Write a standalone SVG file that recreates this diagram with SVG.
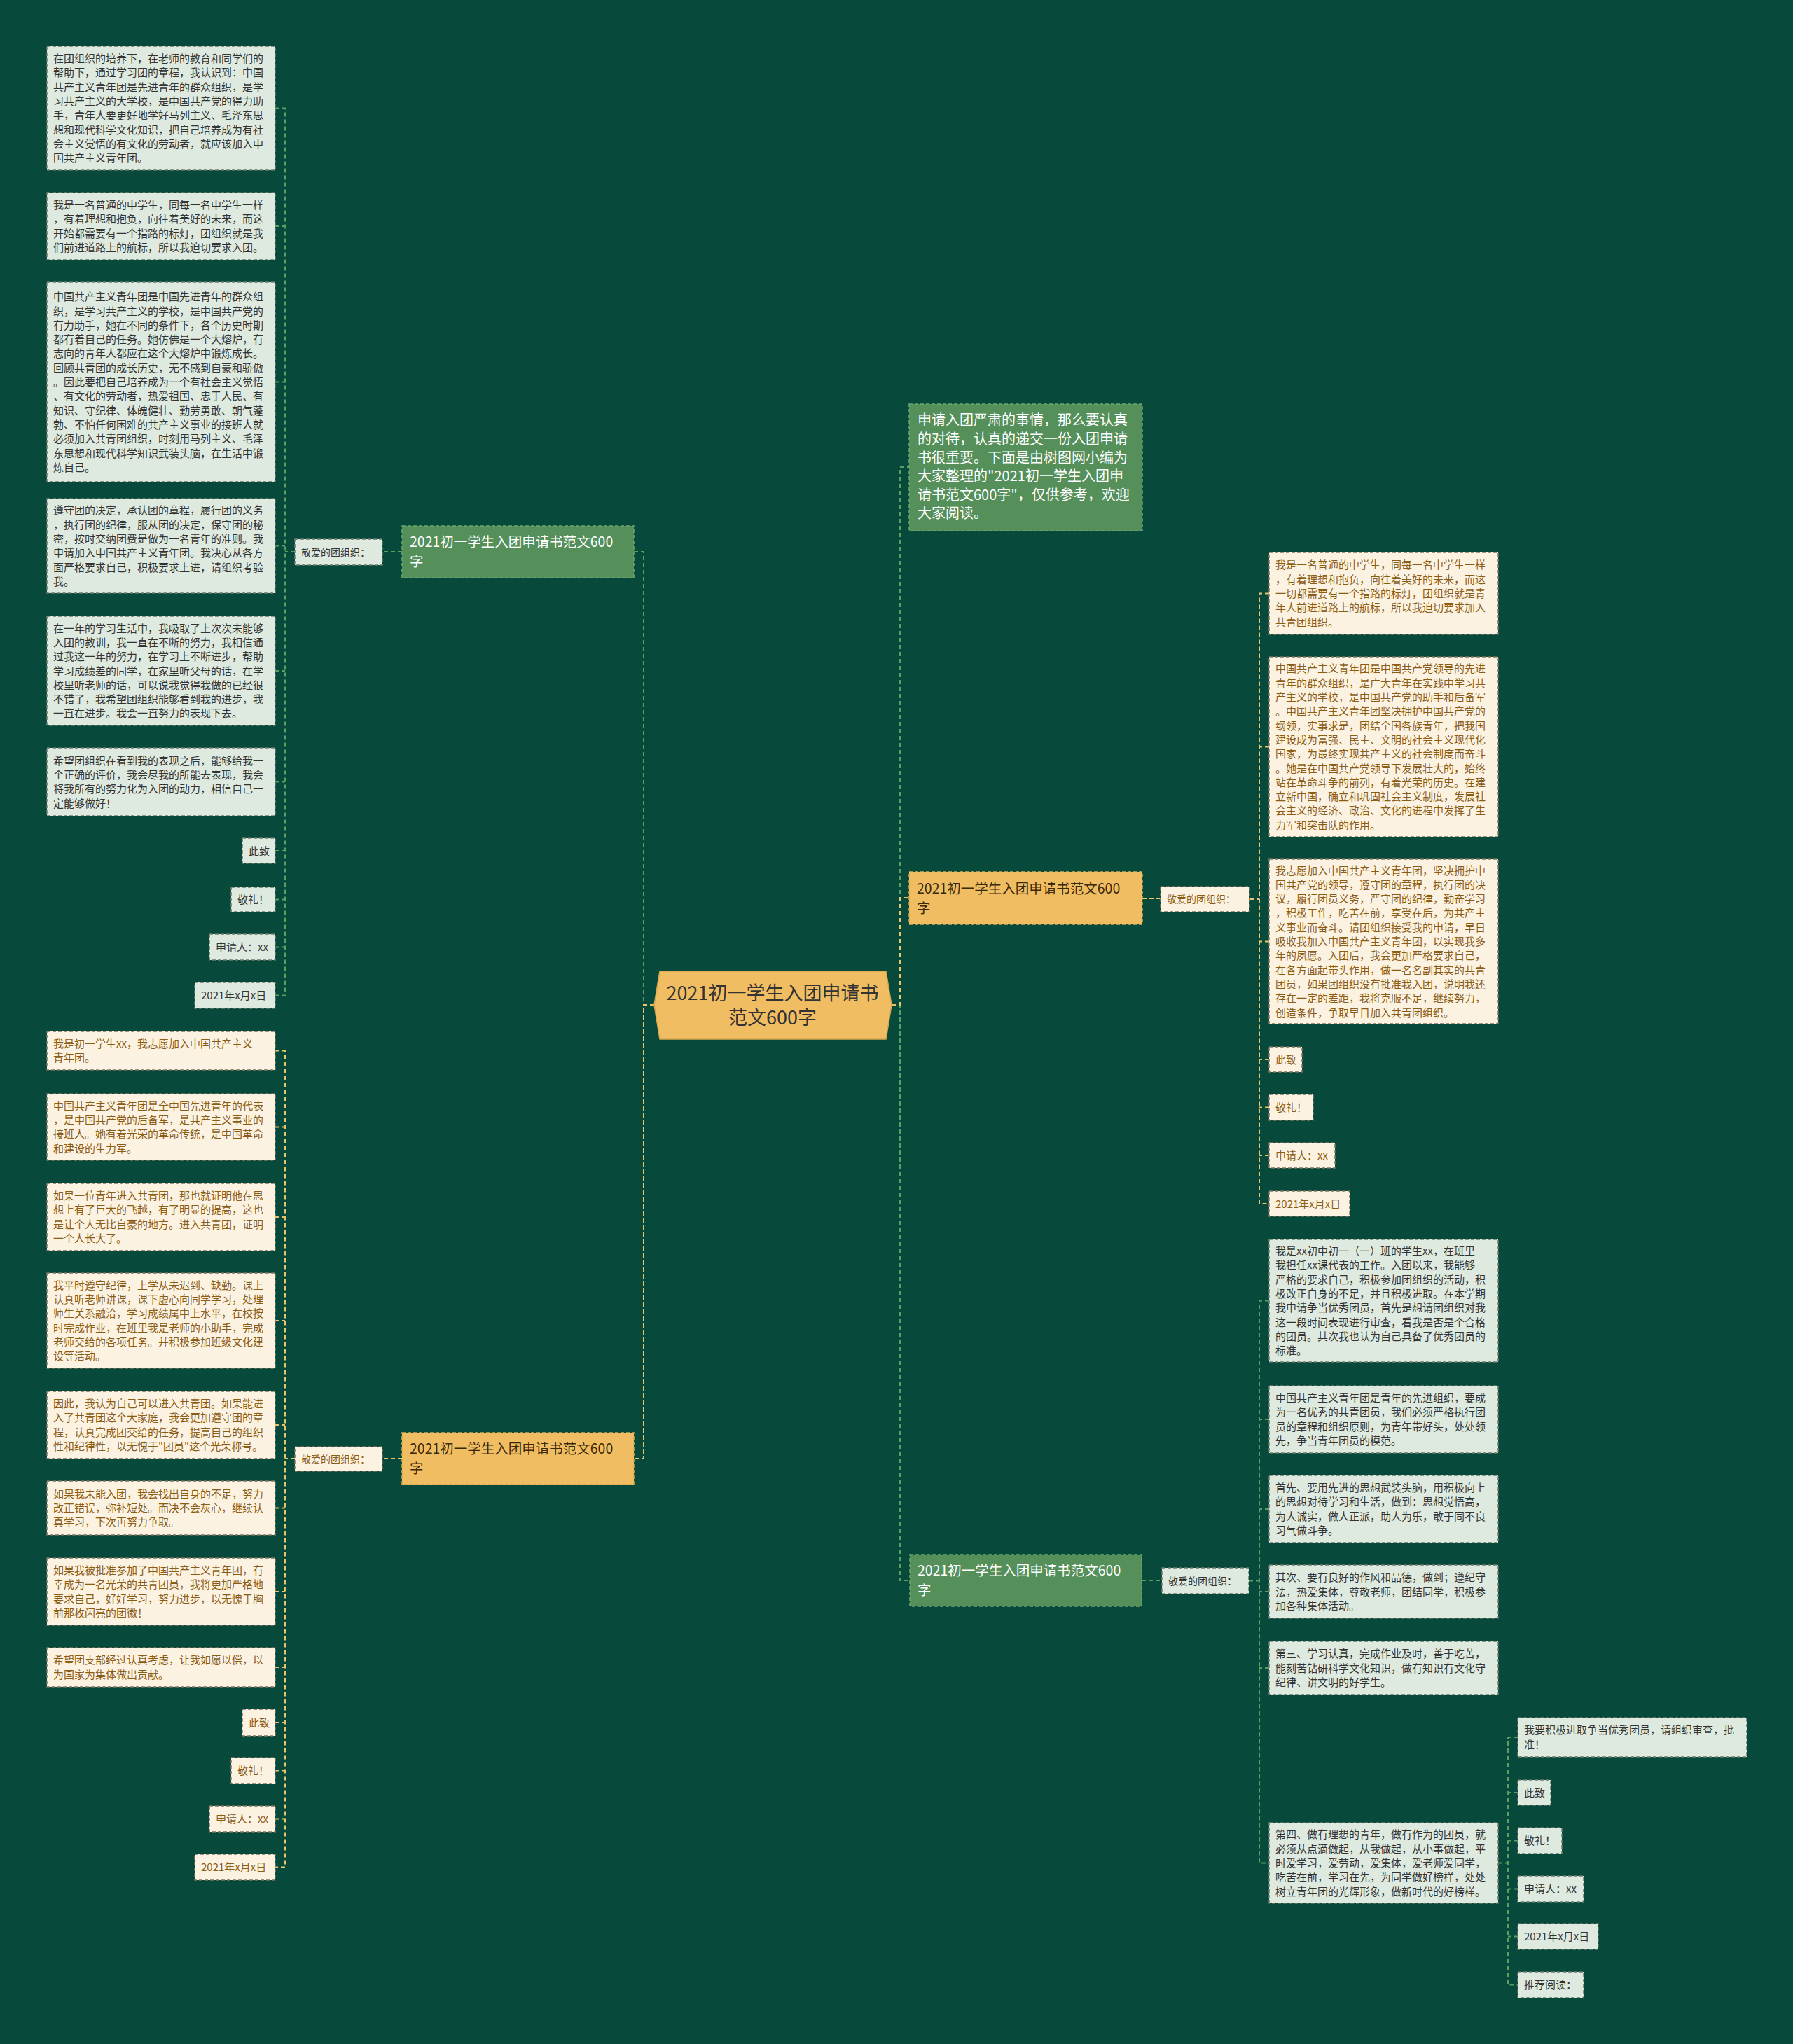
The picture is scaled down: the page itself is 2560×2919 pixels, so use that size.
<svg xmlns="http://www.w3.org/2000/svg" width="2560" height="2919" viewBox="0 0 2560 2919">
<style>
text{font-family:"Noto Sans CJK SC","Noto Sans",sans-serif;}
.lg{fill:#deeadf;stroke:#6b7b6c;stroke-width:1.5;stroke-dasharray:5 3;}
.cr{fill:#fcf2e2;stroke:#7d7460;stroke-width:1.5;stroke-dasharray:5 3;}
.tg{font-size:15px;fill:#333333;}
.tc{font-size:15px;fill:#8b5c14;}
.lbg{font-size:14px;fill:#333333;}
.lbc{font-size:14px;fill:#8b5c14;}
.bg{fill:#558f5a;stroke:#6aa870;stroke-width:1.5;stroke-dasharray:5 3;}
.bo{fill:#f1bd63;stroke:#d9a84e;stroke-width:1.5;stroke-dasharray:5 3;}
.tbw{font-size:19.5px;fill:#ffffff;}
.tbd{font-size:19.5px;fill:#3b2a0a;}
.cg{fill:none;stroke:#5a9e62;stroke-width:2;stroke-dasharray:6 4;}
.co{fill:none;stroke:#e9c46a;stroke-width:2;stroke-dasharray:6 4;}
</style>
<rect x="0" y="0" width="2560" height="2919" fill="#07493a"/>

<g id="connectors">
  <path class="cg" d="M934,1435 H919 V788 H905"/>
  <path class="co" d="M934,1435 H919 V2083 H905"/>
  <path class="cg" d="M1273,1435 H1285 V667 H1298"/>
  <path class="cg" d="M1273,1435 H1285 V2257 H1299"/>
  <path class="co" d="M1273,1435 H1285 V1282 H1298"/>
  <path class="cg" d="M574,788 H546"/>
  <path class="co" d="M574,2083 H546"/>
  <path class="co" d="M1631,1283 H1657"/>
  <path class="cg" d="M1630,2257 H1659"/>
  <path class="cg" d="M421,788 H407"/>
  <path class="cg" d="M393,154.5 H407 V1421.5 H393"/>
  <path class="cg" d="M393,323 H407 M393,545.5 H407 M393,779.5 H407 M393,958 H407 M393,1116.5 H407 M393,1215 H407 M393,1284.5 H407 M393,1352.5 H407"/>
  <path class="co" d="M421,2083 H407"/>
  <path class="co" d="M393,1500.5 H407 V2666.5 H393"/>
  <path class="co" d="M393,1609.5 H407 M393,1738 H407 M393,1886 H407 M393,2035 H407 M393,2153.5 H407 M393,2273 H407 M393,2381 H407 M393,2460 H407 M393,2528.5 H407 M393,2597.5 H407"/>
  <path class="co" d="M1784,1284 H1798"/>
  <path class="co" d="M1812,847.5 H1798 V1719 H1812"/>
  <path class="co" d="M1812,1066.5 H1798 M1812,1344.5 H1798 M1812,1513 H1798 M1812,1581.5 H1798 M1812,1650 H1798"/>
  <path class="cg" d="M1783,2257.5 H1798"/>
  <path class="cg" d="M1812,1857.5 H1798 V2660.5 H1812"/>
  <path class="cg" d="M1812,2027 H1798 M1812,2155 H1798 M1812,2273 H1798 M1812,2382 H1798"/>
  <path class="cg" d="M2139,2660.5 H2153"/>
  <path class="cg" d="M2167,2481 H2153 V2834.5 H2167"/>
  <path class="cg" d="M2167,2560 H2153 M2167,2628.5 H2153 M2167,2697.5 H2153 M2167,2765.5 H2153"/>
</g>

<g id="center">
  <polygon points="942,1387 1265,1387 1273,1435 1265,1484 942,1484 934,1435" fill="#f1bd63" stroke="#d9a84e" stroke-width="1.5"/>
  <text text-anchor="middle" style="font-size:27px;fill:#333" y="1428"><tspan x="1103">2021初一学生入团申请书</tspan><tspan x="1103" dy="35">范文600字</tspan></text>
</g>

<g id="intro">
  <rect class="bg" x="1298" y="577" width="333" height="181"/>
  <text class="tbw" style="font-size:20px" y="607.4"><tspan x="1310">申请入团严肃的事情，那么要认真</tspan><tspan x="1310" dy="26.6">的对待，认真的递交一份入团申请</tspan><tspan x="1310" dy="26.6">书很重要。下面是由树图网小编为</tspan><tspan x="1310" dy="26.6">大家整理的"2021初一学生入团申</tspan><tspan x="1310" dy="26.6">请书范文600字"，仅供参考，欢迎</tspan><tspan x="1310" dy="26.6">大家阅读。</tspan></text>
</g>

<g id="branch-left-top">
  <rect class="bg" x="574" y="751" width="331" height="74"/>
  <text class="tbw" y="781"><tspan x="585">2021初一学生入团申请书范文600</tspan><tspan x="585" dy="28">字</tspan></text>
</g>
<g id="label-left-top">
  <rect class="lg" x="421" y="770" width="125" height="37"/>
  <text class="lbg" x="430" y="793.5">敬爱的团组织：</text>
</g>

<g id="branch-left-bottom">
  <rect class="bo" x="574" y="2046" width="331" height="74"/>
  <text class="tbd" y="2076"><tspan x="585">2021初一学生入团申请书范文600</tspan><tspan x="585" dy="28">字</tspan></text>
</g>
<g id="label-left-bottom">
  <rect class="cr" x="421" y="2066" width="125" height="35"/>
  <text class="lbc" x="430" y="2088.5">敬爱的团组织：</text>
</g>

<g id="branch-right-top">
  <rect class="bo" x="1298" y="1245" width="333" height="75"/>
  <text class="tbd" y="1276"><tspan x="1309">2021初一学生入团申请书范文600</tspan><tspan x="1309" dy="28">字</tspan></text>
</g>
<g id="label-right-top">
  <rect class="cr" x="1657" y="1266" width="127" height="36"/>
  <text class="lbc" x="1666" y="1289">敬爱的团组织：</text>
</g>

<g id="branch-right-bottom">
  <rect class="bg" x="1299" y="2220" width="331" height="74"/>
  <text class="tbw" y="2250"><tspan x="1310">2021初一学生入团申请书范文600</tspan><tspan x="1310" dy="28">字</tspan></text>
</g>
<g id="label-right-bottom">
  <rect class="lg" x="1659" y="2239" width="124" height="37"/>
  <text class="lbg" x="1668" y="2262.5">敬爱的团组织：</text>
</g>

<g id="L1">
  <rect class="lg" x="67" y="66" width="326" height="177"/>
  <text class="tg" y="89"><tspan x="76">在团组织的培养下，在老师的教育和同学们的</tspan><tspan x="76" dy="20.3">帮助下，通过学习团的章程，我认识到：中国</tspan><tspan x="76" dy="20.3">共产主义青年团是先进青年的群众组织，是学</tspan><tspan x="76" dy="20.3">习共产主义的大学校，是中国共产党的得力助</tspan><tspan x="76" dy="20.3">手，青年人要更好地学好马列主义、毛泽东思</tspan><tspan x="76" dy="20.3">想和现代科学文化知识，把自己培养成为有社</tspan><tspan x="76" dy="20.3">会主义觉悟的有文化的劳动者，就应该加入中</tspan><tspan x="76" dy="20.3">国共产主义青年团。</tspan></text>
</g>
<g id="L2">
  <rect class="lg" x="67" y="275" width="326" height="96"/>
  <text class="tg" y="298.1"><tspan x="76">我是一名普通的中学生，同每一名中学生一样</tspan><tspan x="76" dy="20.3">，有着理想和抱负，向往着美好的未来，而这</tspan><tspan x="76" dy="20.3">开始都需要有一个指路的标灯，团组织就是我</tspan><tspan x="76" dy="20.3">们前进道路上的航标，所以我迫切要求入团。</tspan></text>
</g>
<g id="L3">
  <rect class="lg" x="67" y="403" width="326" height="285"/>
  <text class="tg" y="429.2"><tspan x="76">中国共产主义青年团是中国先进青年的群众组</tspan><tspan x="76" dy="20.3">织，是学习共产主义的学校，是中国共产党的</tspan><tspan x="76" dy="20.3">有力助手，她在不同的条件下，各个历史时期</tspan><tspan x="76" dy="20.3">都有着自己的任务。她仿佛是一个大熔炉，有</tspan><tspan x="76" dy="20.3">志向的青年人都应在这个大熔炉中锻炼成长。</tspan><tspan x="76" dy="20.3">回顾共青团的成长历史，无不感到自豪和骄傲</tspan><tspan x="76" dy="20.3">。因此要把自己培养成为一个有社会主义觉悟</tspan><tspan x="76" dy="20.3">、有文化的劳动者，热爱祖国、忠于人民、有</tspan><tspan x="76" dy="20.3">知识、守纪律、体魄健壮、勤劳勇敢、朝气蓬</tspan><tspan x="76" dy="20.3">勃、不怕任何困难的共产主义事业的接班人就</tspan><tspan x="76" dy="20.3">必须加入共青团组织，时刻用马列主义、毛泽</tspan><tspan x="76" dy="20.3">东思想和现代科学知识武装头脑，在生活中锻</tspan><tspan x="76" dy="20.3">炼自己。</tspan></text>
</g>
<g id="L4">
  <rect class="lg" x="67" y="712" width="326" height="135"/>
  <text class="tg" y="734.3"><tspan x="76">遵守团的决定，承认团的章程，履行团的义务</tspan><tspan x="76" dy="20.3">，执行团的纪律，服从团的决定，保守团的秘</tspan><tspan x="76" dy="20.3">密，按时交纳团费是做为一名青年的准则。我</tspan><tspan x="76" dy="20.3">申请加入中国共产主义青年团。我决心从各方</tspan><tspan x="76" dy="20.3">面严格要求自己，积极要求上进，请组织考验</tspan><tspan x="76" dy="20.3">我。</tspan></text>
</g>
<g id="L5">
  <rect class="lg" x="67" y="880" width="326" height="156"/>
  <text class="tg" y="902.6"><tspan x="76">在一年的学习生活中，我吸取了上次次未能够</tspan><tspan x="76" dy="20.3">入团的教训，我一直在不断的努力，我相信通</tspan><tspan x="76" dy="20.3">过我这一年的努力，在学习上不断进步，帮助</tspan><tspan x="76" dy="20.3">学习成绩差的同学，在家里听父母的话，在学</tspan><tspan x="76" dy="20.3">校里听老师的话，可以说我觉得我做的已经很</tspan><tspan x="76" dy="20.3">不错了，我希望团组织能够看到我的进步，我</tspan><tspan x="76" dy="20.3">一直在进步。我会一直努力的表现下去。</tspan></text>
</g>
<g id="L6">
  <rect class="lg" x="67" y="1068" width="326" height="97"/>
  <text class="tg" y="1091.6"><tspan x="76">希望团组织在看到我的表现之后，能够给我一</tspan><tspan x="76" dy="20.3">个正确的评价，我会尽我的所能去表现，我会</tspan><tspan x="76" dy="20.3">将我所有的努力化为入团的动力，相信自己一</tspan><tspan x="76" dy="20.3">定能够做好！</tspan></text>
</g>
<g id="L7"><rect class="lg" x="346" y="1197" width="47" height="36"/><text class="tg" x="355" y="1220.5">此致</text></g>
<g id="L8"><rect class="lg" x="330" y="1267" width="63" height="35"/><text class="tg" x="339" y="1290">敬礼！</text></g>
<g id="L9"><rect class="lg" x="299" y="1334" width="94" height="37"/><text class="tg" x="308" y="1358">申请人：xx</text></g>
<g id="L10"><rect class="lg" x="278" y="1403" width="115" height="37"/><text class="tg" x="287" y="1427">2021年x月x日</text></g>

<g id="B1">
  <rect class="cr" x="67" y="1473" width="326" height="55"/>
  <text class="tc" y="1495.9"><tspan x="76">我是初一学生xx，我志愿加入中国共产主义</tspan><tspan x="76" dy="20.3">青年团。</tspan></text>
</g>
<g id="B2">
  <rect class="cr" x="67" y="1562" width="326" height="95"/>
  <text class="tc" y="1584.6"><tspan x="76">中国共产主义青年团是全中国先进青年的代表</tspan><tspan x="76" dy="20.3">，是中国共产党的后备军，是共产主义事业的</tspan><tspan x="76" dy="20.3">接班人。她有着光荣的革命传统，是中国革命</tspan><tspan x="76" dy="20.3">和建设的生力军。</tspan></text>
</g>
<g id="B3">
  <rect class="cr" x="67" y="1690" width="326" height="96"/>
  <text class="tc" y="1713.1"><tspan x="76">如果一位青年进入共青团，那也就证明他在思</tspan><tspan x="76" dy="20.3">想上有了巨大的飞越，有了明显的提高，这也</tspan><tspan x="76" dy="20.3">是让个人无比自豪的地方。进入共青团，证明</tspan><tspan x="76" dy="20.3">一个人长大了。</tspan></text>
</g>
<g id="B4">
  <rect class="cr" x="67" y="1818" width="326" height="136"/>
  <text class="tc" y="1840.8"><tspan x="76">我平时遵守纪律，上学从未迟到、缺勤。课上</tspan><tspan x="76" dy="20.3">认真听老师讲课，课下虚心向同学学习，处理</tspan><tspan x="76" dy="20.3">师生关系融洽，学习成绩属中上水平，在校按</tspan><tspan x="76" dy="20.3">时完成作业，在班里我是老师的小助手，完成</tspan><tspan x="76" dy="20.3">老师交给的各项任务。并积极参加班级文化建</tspan><tspan x="76" dy="20.3">设等活动。</tspan></text>
</g>
<g id="B5">
  <rect class="cr" x="67" y="1987" width="326" height="96"/>
  <text class="tc" y="2010.1"><tspan x="76">因此，我认为自己可以进入共青团。如果能进</tspan><tspan x="76" dy="20.3">入了共青团这个大家庭，我会更加遵守团的章</tspan><tspan x="76" dy="20.3">程，认真完成团交给的任务，提高自己的组织</tspan><tspan x="76" dy="20.3">性和纪律性，以无愧于"团员"这个光荣称号。</tspan></text>
</g>
<g id="B6">
  <rect class="cr" x="67" y="2115" width="326" height="77"/>
  <text class="tc" y="2138.7"><tspan x="76">如果我未能入团，我会找出自身的不足，努力</tspan><tspan x="76" dy="20.3">改正错误，弥补短处。而决不会灰心，继续认</tspan><tspan x="76" dy="20.3">真学习，下次再努力争取。</tspan></text>
</g>
<g id="B7">
  <rect class="cr" x="67" y="2225" width="326" height="96"/>
  <text class="tc" y="2248.1"><tspan x="76">如果我被批准参加了中国共产主义青年团，有</tspan><tspan x="76" dy="20.3">幸成为一名光荣的共青团员，我将更加严格地</tspan><tspan x="76" dy="20.3">要求自己，好好学习，努力进步，以无愧于胸</tspan><tspan x="76" dy="20.3">前那枚闪亮的团徽！</tspan></text>
</g>
<g id="B8">
  <rect class="cr" x="67" y="2353" width="326" height="56"/>
  <text class="tc" y="2376.4"><tspan x="76">希望团支部经过认真考虑，让我如愿以偿，以</tspan><tspan x="76" dy="20.3">为国家为集体做出贡献。</tspan></text>
</g>
<g id="B9"><rect class="cr" x="346" y="2441" width="47" height="38"/><text class="tc" x="355" y="2465.5">此致</text></g>
<g id="B10"><rect class="cr" x="330" y="2510" width="63" height="37"/><text class="tc" x="339" y="2534">敬礼！</text></g>
<g id="B11"><rect class="cr" x="299" y="2579" width="94" height="37"/><text class="tc" x="308" y="2603">申请人：xx</text></g>
<g id="B12"><rect class="cr" x="278" y="2648" width="115" height="37"/><text class="tc" x="287" y="2672">2021年x月x日</text></g>

<g id="R1">
  <rect class="cr" x="1812" y="789" width="327" height="117"/>
  <text class="tc" y="812.4"><tspan x="1821">我是一名普通的中学生，同每一名中学生一样</tspan><tspan x="1821" dy="20.3">，有着理想和抱负，向往着美好的未来，而这</tspan><tspan x="1821" dy="20.3">一切都需要有一个指路的标灯，团组织就是青</tspan><tspan x="1821" dy="20.3">年人前进道路上的航标，所以我迫切要求加入</tspan><tspan x="1821" dy="20.3">共青团组织。</tspan></text>
</g>
<g id="R2">
  <rect class="cr" x="1812" y="938" width="327" height="257"/>
  <text class="tc" y="960.4"><tspan x="1821">中国共产主义青年团是中国共产党领导的先进</tspan><tspan x="1821" dy="20.3">青年的群众组织，是广大青年在实践中学习共</tspan><tspan x="1821" dy="20.3">产主义的学校，是中国共产党的助手和后备军</tspan><tspan x="1821" dy="20.3">。中国共产主义青年团坚决拥护中国共产党的</tspan><tspan x="1821" dy="20.3">纲领，实事求是，团结全国各族青年，把我国</tspan><tspan x="1821" dy="20.3">建设成为富强、民主、文明的社会主义现代化</tspan><tspan x="1821" dy="20.3">国家，为最终实现共产主义的社会制度而奋斗</tspan><tspan x="1821" dy="20.3">。她是在中国共产党领导下发展壮大的，始终</tspan><tspan x="1821" dy="20.3">站在革命斗争的前列，有着光荣的历史。在建</tspan><tspan x="1821" dy="20.3">立新中国，确立和巩固社会主义制度，发展社</tspan><tspan x="1821" dy="20.3">会主义的经济、政治、文化的进程中发挥了生</tspan><tspan x="1821" dy="20.3">力军和突击队的作用。</tspan></text>
</g>
<g id="R3">
  <rect class="cr" x="1812" y="1227" width="327" height="235"/>
  <text class="tc" y="1248.5"><tspan x="1821">我志愿加入中国共产主义青年团，坚决拥护中</tspan><tspan x="1821" dy="20.3">国共产党的领导，遵守团的章程，执行团的决</tspan><tspan x="1821" dy="20.3">议，履行团员义务，严守团的纪律，勤奋学习</tspan><tspan x="1821" dy="20.3">，积极工作，吃苦在前，享受在后，为共产主</tspan><tspan x="1821" dy="20.3">义事业而奋斗。请团组织接受我的申请，早日</tspan><tspan x="1821" dy="20.3">吸收我加入中国共产主义青年团，以实现我多</tspan><tspan x="1821" dy="20.3">年的夙愿。入团后，我会更加严格要求自己，</tspan><tspan x="1821" dy="20.3">在各方面起带头作用，做一名名副其实的共青</tspan><tspan x="1821" dy="20.3">团员，如果团组织没有批准我入团，说明我还</tspan><tspan x="1821" dy="20.3">存在一定的差距，我将克服不足，继续努力，</tspan><tspan x="1821" dy="20.3">创造条件，争取早日加入共青团组织。</tspan></text>
</g>
<g id="R4"><rect class="cr" x="1812" y="1495" width="47" height="36"/><text class="tc" x="1821" y="1518.5">此致</text></g>
<g id="R5"><rect class="cr" x="1812" y="1563" width="63" height="37"/><text class="tc" x="1821" y="1587">敬礼！</text></g>
<g id="R6"><rect class="cr" x="1812" y="1632" width="94" height="36"/><text class="tc" x="1821" y="1655.5">申请人：xx</text></g>
<g id="R7"><rect class="cr" x="1812" y="1701" width="115" height="36"/><text class="tc" x="1821" y="1724.5">2021年x月x日</text></g>

<g id="G1">
  <rect class="lg" x="1812" y="1770" width="327" height="175"/>
  <text class="tg" y="1792"><tspan x="1821">我是xx初中初一（一）班的学生xx，在班里</tspan><tspan x="1821" dy="20.3">我担任xx课代表的工作。入团以来，我能够</tspan><tspan x="1821" dy="20.3">严格的要求自己，积极参加团组织的活动，积</tspan><tspan x="1821" dy="20.3">极改正自身的不足，并且积极进取。在本学期</tspan><tspan x="1821" dy="20.3">我申请争当优秀团员，首先是想请团组织对我</tspan><tspan x="1821" dy="20.3">这一段时间表现进行审查，看我是否是个合格</tspan><tspan x="1821" dy="20.3">的团员。其次我也认为自己具备了优秀团员的</tspan><tspan x="1821" dy="20.3">标准。</tspan></text>
</g>
<g id="G2">
  <rect class="lg" x="1812" y="1979" width="327" height="96"/>
  <text class="tg" y="2002.1"><tspan x="1821">中国共产主义青年团是青年的先进组织，要成</tspan><tspan x="1821" dy="20.3">为一名优秀的共青团员，我们必须严格执行团</tspan><tspan x="1821" dy="20.3">员的章程和组织原则，为青年带好头，处处领</tspan><tspan x="1821" dy="20.3">先，争当青年团员的模范。</tspan></text>
</g>
<g id="G3">
  <rect class="lg" x="1812" y="2107" width="327" height="96"/>
  <text class="tg" y="2130.1"><tspan x="1821">首先、要用先进的思想武装头脑，用积极向上</tspan><tspan x="1821" dy="20.3">的思想对待学习和生活，做到：思想觉悟高，</tspan><tspan x="1821" dy="20.3">为人诚实，做人正派，助人为乐，敢于同不良</tspan><tspan x="1821" dy="20.3">习气做斗争。</tspan></text>
</g>
<g id="G4">
  <rect class="lg" x="1812" y="2235" width="327" height="76"/>
  <text class="tg" y="2258.2"><tspan x="1821">其次、要有良好的作风和品德，做到；遵纪守</tspan><tspan x="1821" dy="20.3">法，热爱集体，尊敬老师，团结同学，积极参</tspan><tspan x="1821" dy="20.3">加各种集体活动。</tspan></text>
</g>
<g id="G5">
  <rect class="lg" x="1812" y="2344" width="327" height="76"/>
  <text class="tg" y="2367.2"><tspan x="1821">第三、学习认真，完成作业及时，善于吃苦，</tspan><tspan x="1821" dy="20.3">能刻苦钻研科学文化知识，做有知识有文化守</tspan><tspan x="1821" dy="20.3">纪律、讲文明的好学生。</tspan></text>
</g>
<g id="G6">
  <rect class="lg" x="1812" y="2603" width="327" height="115"/>
  <text class="tg" y="2625.4"><tspan x="1821">第四、做有理想的青年，做有作为的团员，就</tspan><tspan x="1821" dy="20.3">必须从点滴做起，从我做起，从小事做起，平</tspan><tspan x="1821" dy="20.3">时爱学习，爱劳动，爱集体，爱老师爱同学，</tspan><tspan x="1821" dy="20.3">吃苦在前，学习在先，为同学做好榜样，处处</tspan><tspan x="1821" dy="20.3">树立青年团的光辉形象，做新时代的好榜样。</tspan></text>
</g>

<g id="F1">
  <rect class="lg" x="2167" y="2453" width="327" height="56"/>
  <text class="tg" y="2476.4"><tspan x="2176">我要积极进取争当优秀团员，请组织审查，批</tspan><tspan x="2176" dy="20.3">准！</tspan></text>
</g>
<g id="F2"><rect class="lg" x="2167" y="2542" width="47" height="36"/><text class="tg" x="2176" y="2565.5">此致</text></g>
<g id="F3"><rect class="lg" x="2167" y="2610" width="63" height="37"/><text class="tg" x="2176" y="2634">敬礼！</text></g>
<g id="F4"><rect class="lg" x="2167" y="2679" width="94" height="37"/><text class="tg" x="2176" y="2703">申请人：xx</text></g>
<g id="F5"><rect class="lg" x="2167" y="2747" width="115" height="37"/><text class="tg" x="2176" y="2771">2021年x月x日</text></g>
<g id="F6"><rect class="lg" x="2167" y="2816" width="94" height="37"/><text class="tg" x="2176" y="2840">推荐阅读：</text></g>
</svg>
